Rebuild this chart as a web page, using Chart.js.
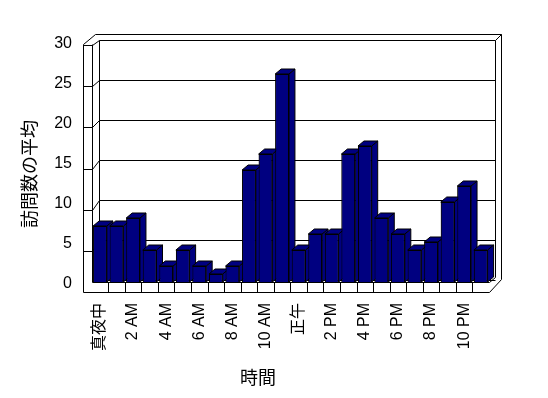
<!DOCTYPE html>
<html><head><meta charset="utf-8">
<script src="https://cdn.jsdelivr.net/npm/chart.js@4/dist/chart.umd.min.js"></script>
<style>html,body{margin:0;padding:0;background:#fff}#wrap{width:548px;height:398px}</style>
</head><body><div id="wrap"><canvas id="c" width="548" height="398"></canvas></div>
<script>
const categories = ['真夜中','1 AM','2 AM','3 AM','4 AM','5 AM','6 AM','7 AM','8 AM','9 AM','10 AM','11 AM',
                    '正午','1 PM','2 PM','3 PM','4 PM','5 PM','6 PM','7 PM','8 PM','9 PM','10 PM','11 PM'];
const visits = [7,7,8,4,2,4,2,1,2,14,16,26,4,6,6,16,17,8,6,4,5,10,12,4];
const yTicks = [0,5,10,15,20,25,30];
const xTitle = '時間';
const yTitle = '訪問数の平均';

const FONT = '"Liberation Sans", "Noto Sans CJK JP", sans-serif';
const CJK = '"Noto Sans CJK JP", sans-serif';
const NAVY = '#000080';

function line(ctx, pts){
  ctx.beginPath();
  ctx.moveTo(pts[0][0], pts[0][1]);
  for (let i=1;i<pts.length;i++) ctx.lineTo(pts[i][0], pts[i][1]);
  ctx.stroke();
}
function poly(ctx, pts){
  ctx.beginPath();
  ctx.moveTo(pts[0][0], pts[0][1]);
  for (let i=1;i<pts.length;i++) ctx.lineTo(pts[i][0], pts[i][1]);
  ctx.closePath();
  ctx.fill(); ctx.stroke();
}

const threeD = {
  id:'threeD',
  beforeDatasetsDraw(chart){
    const ctx = chart.ctx, a = chart.chartArea, ys = chart.scales.y;
    const L = a.left, R = a.right, B = a.bottom;
    const oL = Math.round(L - 9) + 0.5, iL = Math.round(L) + 0.5, bL = Math.round(L + 7) + 0.5;
    const iR = Math.round(R + 6) + 0.5, oR = Math.round(R + 12) + 0.5, fR = Math.round(R) + 0.5;
    const fTop = Math.round(B) + 0.5, fBot = Math.round(B + 10) + 0.5;
    const topFront = Math.round(ys.getPixelForValue(30)) + 2.5;
    const inTop = Math.round(ys.getPixelForValue(30) - 2) + 0.5;
    const outTop = inTop - 6;
    ctx.save();
    ctx.strokeStyle = '#000'; ctx.lineWidth = 1;
    yTicks.forEach(v => {
      const gy = Math.round(ys.getPixelForValue(v) - 2) + 0.5;
      line(ctx, [[bL, gy],[iR, gy]]);
      if (v > 0) {
        const fy = Math.round(fBot - v*(fBot - topFront)/30) + 0.5;
        line(ctx, [[oL, fy],[iL, fy],[bL, gy]]);
      }
    });
    line(ctx, [[oL, topFront],[oL + 12, outTop],[oR, outTop]]);
    line(ctx, [[iR, inTop],[oR, outTop]]);
    line(ctx, [[oL, topFront],[oL, fBot],[fR, fBot],[oR, fBot - 13],[oR, outTop]]);
    line(ctx, [[iL, topFront],[iL, fTop],[fR, fTop],[iR, fTop - 5],[iR, inTop]]);
    line(ctx, [[bL, inTop],[bL, fTop - 2]]);
    const n = categories.length;
    for (let k=1;k<n;k++){
      const xx = Math.round(L + k*(R-L)/n) + 0.5;
      line(ctx, [[xx, fTop],[xx, fBot]]);
    }
    ctx.restore();
  },
  afterDatasetsDraw(chart){
    const ctx = chart.ctx;
    const meta = chart.getDatasetMeta(0);
    const dx = 6, dy = -5;
    ctx.save();
    ctx.fillStyle = NAVY; ctx.strokeStyle = '#000'; ctx.lineWidth = 1;
    meta.data.forEach(el => {
      const p = el.getProps(['x','y','base','width'], true);
      const l = p.x - p.width/2, r = p.x + p.width/2, t = p.y, b = p.base;
      poly(ctx, [[r,t],[r+dx,t+dy],[r+dx,b+dy],[r,b]]);
      poly(ctx, [[l,t],[l+dx,t+dy],[r+dx,t+dy],[r,t]]);
      el.draw(ctx);
    });
    ctx.restore();
  },
  afterDraw(chart){
    const ctx = chart.ctx;
    ctx.save();
    ctx.fillStyle = '#000';
    ctx.font = '18px ' + CJK;
    ctx.textAlign = 'center'; ctx.textBaseline = 'middle';
    ctx.fillText(xTitle, 258, 377);
    ctx.translate(29, 174);
    ctx.rotate(-Math.PI/2);
    ctx.fillText(yTitle, 0, 0);
    ctx.restore();
  }
};

new Chart(document.getElementById('c'), {
  type:'bar',
  data:{labels:categories, datasets:[{data:visits, backgroundColor:NAVY, borderColor:'#000', borderWidth:1,
        barPercentage:0.83, categoryPercentage:1}]},
  options:{
    responsive:false, animation:false, devicePixelRatio:1,
    layout:{padding:{left:0, top:42, right:59, bottom:0}},
    plugins:{legend:{display:false}, tooltip:{enabled:false}},
    scales:{
      x:{
        grid:{display:false, drawTicks:false, tickLength:0}, border:{display:false},
        ticks:{autoSkip:false, minRotation:90, maxRotation:90, padding:21, color:'#000',
               font:{size:16, family:FONT}, callback:(v,i)=> i%2===0 ? categories[i] : ''},
        afterFit:s=>{ s.height = 116; }
      },
      y:{
        min:0, max:30,
        grid:{display:false, drawTicks:false, tickLength:0}, border:{display:false},
        ticks:{padding:19.7, labelOffset:2, color:'#000', font:{size:16, family:FONT}},
        afterBuildTicks:s=>{ s.ticks = yTicks.map(v=>({value:v})); },
        afterFit:s=>{ s.width = 91.7; }
      }
    }
  },
  plugins:[threeD]
});
</script>
</body></html>
